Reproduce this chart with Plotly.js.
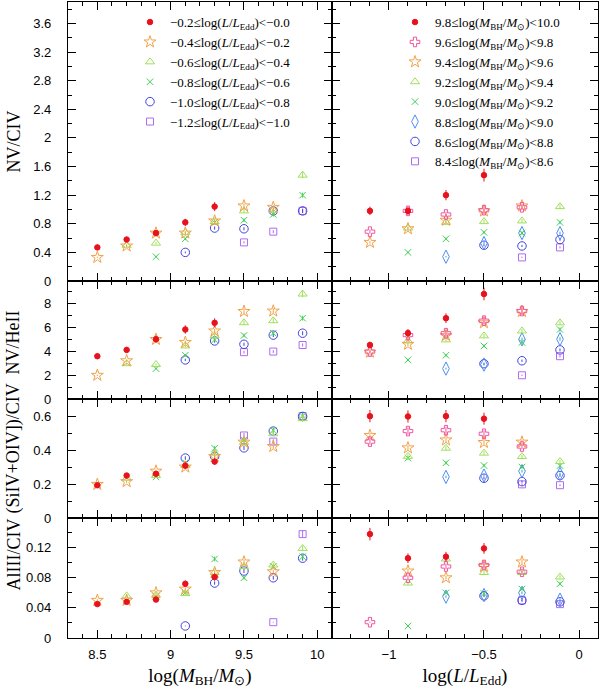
<!DOCTYPE html>
<html>
<head>
<meta charset="utf-8">
<script src="https://cdn.plot.ly/plotly-3.0.1.min.js"></script>
<style>
  html, body { margin: 0; padding: 0; background: #fff; }
  #chart { width: 600px; height: 691px; }
</style>
</head>
<body>
<div id="chart"></div>
<script>
// line ratios binned in black-hole mass (rows) and Eddington ratio (columns)
const massBins = [8.5, 8.7, 8.9, 9.1, 9.3, 9.5, 9.7, 9.9];
const eddBins = [-1.1, -0.9, -0.7, -0.5, -0.3, -0.1];

const nvCiv = [
  [null, null, null, null, 0.33, 0.47],
  [null, null, null, 0.50, 0.49, 0.58],
  [null, null, 0.34, 0.53, 0.67, 0.67],
  [null, 0.40, 0.59, 0.68, 0.67, 0.82],
  [null, 0.74, 0.82, 0.83, 0.84, 1.04],
  [0.54, 0.73, 0.85, 0.98, 1.05, null],
  [0.69, 0.98, 0.93, 0.99, 1.03, null],
  [0.98, 0.98, 1.20, 1.48, null, null]
];

const nvHeii = [
  [null, null, null, null, 1.99, 3.59],
  [null, null, null, 2.96, 3.21, 4.12],
  [null, null, 2.55, 2.89, 5.00, 5.02],
  [null, 3.28, 3.67, 4.45, 4.75, 5.83],
  [null, 4.87, 4.96, 5.30, 5.71, 6.39],
  [3.93, 4.59, 5.33, 6.40, 7.35, null],
  [3.98, 5.36, 5.52, 6.57, 7.38, null],
  [4.53, 5.52, 6.78, 8.81, null, null]
];

const siivCiv = [
  [null, null, null, null, 0.200, 0.195],
  [null, null, null, 0.236, 0.216, 0.252],
  [null, null, 0.244, 0.252, 0.278, 0.262],
  [null, 0.355, 0.327, 0.311, 0.302, 0.310],
  [null, 0.365, 0.413, 0.384, 0.364, 0.334],
  [0.488, 0.415, 0.462, 0.447, 0.449, null],
  [0.452, 0.514, 0.519, 0.498, 0.423, null],
  [0.602, 0.600, 0.602, 0.587, null, null]
];

const aliiiCiv = [
  [null, null, null, null, 0.050, 0.045],
  [null, null, null, 0.056, 0.050, 0.048],
  [null, null, 0.055, 0.057, 0.060, 0.051],
  [null, 0.016, 0.060, 0.059, 0.065, 0.072],
  [null, 0.073, 0.105, 0.087, 0.087, 0.081],
  [null, 0.089, 0.080, 0.095, 0.101, null],
  [0.021, 0.080, 0.095, 0.097, 0.088, null],
  [0.138, 0.106, 0.108, 0.119, null, null]
];

const eddNames = [
  "−1.2≤log(<i>L</i>/<i>L</i><sub>Edd</sub>)&lt;−1.0",
  "−1.0≤log(<i>L</i>/<i>L</i><sub>Edd</sub>)&lt;−0.8",
  "−0.8≤log(<i>L</i>/<i>L</i><sub>Edd</sub>)&lt;−0.6",
  "−0.6≤log(<i>L</i>/<i>L</i><sub>Edd</sub>)&lt;−0.4",
  "−0.4≤log(<i>L</i>/<i>L</i><sub>Edd</sub>)&lt;−0.2",
  "−0.2≤log(<i>L</i>/<i>L</i><sub>Edd</sub>)&lt;−0.0"
];

const massNames = [
  "8.4≤log(<i>M</i><sub>BH</sub>/<i>M</i><sub>⊙</sub>)&lt;8.6",
  "8.6≤log(<i>M</i><sub>BH</sub>/<i>M</i><sub>⊙</sub>)&lt;8.8",
  "8.8≤log(<i>M</i><sub>BH</sub>/<i>M</i><sub>⊙</sub>)&lt;9.0",
  "9.0≤log(<i>M</i><sub>BH</sub>/<i>M</i><sub>⊙</sub>)&lt;9.2",
  "9.2≤log(<i>M</i><sub>BH</sub>/<i>M</i><sub>⊙</sub>)&lt;9.4",
  "9.4≤log(<i>M</i><sub>BH</sub>/<i>M</i><sub>⊙</sub>)&lt;9.6",
  "9.6≤log(<i>M</i><sub>BH</sub>/<i>M</i><sub>⊙</sub>)&lt;9.8",
  "9.8≤log(<i>M</i><sub>BH</sub>/<i>M</i><sub>⊙</sub>)&lt;10.0"
];

const rowTitles = ["NV/CIV", "NV/HeII", "(SiIV+OIV])/CIV", "AlIII/CIV"];

(function () {
  const dom = document.getElementById("chart");

  const S = {
    red:   { symbol: "circle", color: "#e8121e", size: 5.5, err: 6 },
    pink:  { symbol: "cross-open", color: "#f0559e", size: 8, err: 4 },
    star:  { symbol: "star-open", color: "#f2a24a", size: 9, err: 3 },
    tri:   { symbol: "triangle-up-open", color: "#9ee05a", size: 8, err: 3 },
    cross: { symbol: "x-thin-open", color: "#3fcf55", size: 6.5, err: 3 },
    dia:   { symbol: "diamond-tall-open", color: "#4a90f0", size: 9.5, err: 3 },
    circ:  { symbol: "circle-open", color: "#4444e0", size: 8.5, err: 3 },
    sq:    { symbol: "square-open", color: "#ad6cf0", size: 7, err: 3 }
  };
  const eddStyle = [S.sq, S.circ, S.cross, S.tri, S.star, S.red];
  const massStyle = [S.sq, S.circ, S.dia, S.cross, S.tri, S.star, S.pink, S.red];

  const panels = [nvCiv, nvHeii, siivCiv, aliiiCiv];

  const axId = (n) => (n === 1 ? "" : String(n));

  function mk(st, x, y, name, xa, ya, leg, show) {
    return {
      type: "scatter",
      mode: "markers",
      x: x,
      y: y,
      name: name,
      xaxis: "x" + axId(xa),
      yaxis: "y" + axId(ya),
      legend: leg,
      showlegend: show,
      marker: {
        symbol: st.symbol,
        size: st.size,
        color: st.color,
        line: { color: st.color, width: 1 }
      },
      error_y: {
        type: "percent",
        value: st.err,
        thickness: 1,
        width: 0,
        color: st.color
      },
      hoverinfo: "x+y+name"
    };
  }

  const traces = [];
  panels.forEach((M, r) => {
    const left = 2 * r + 1;
    const right = 2 * r + 2;
    eddBins.forEach((e, j) => {
      traces.push(mk(eddStyle[j], massBins, M.map(row => row[j]), eddNames[j],
        left, left, "legend", r === 0));
    });
    massBins.forEach((m, i) => {
      traces.push(mk(massStyle[i], eddBins, M[i], massNames[i],
        right, right, "legend2", r === 0));
    });
  });

  const tickFont = { family: "Liberation Sans, Arial, sans-serif", size: 13, color: "#000" };
  const serif = "Liberation Serif, Times New Roman, serif";

  function axis(extra, minorDtick) {
    return Object.assign({
      showline: true,
      linecolor: "#000",
      linewidth: 1.2,
      mirror: "allticks",
      ticks: "inside",
      ticklen: 8,
      tickwidth: 1.1,
      tickcolor: "#000",
      showgrid: false,
      zeroline: false,
      tickfont: tickFont,
      minor: { ticks: "inside", ticklen: 4, tickwidth: 1, tickcolor: "#000", dtick: minorDtick, showgrid: false }
    }, extra);
  }

  const colL = [0, 0.498];
  const colR = [0.498, 1];
  const rowDom = [[0.5613, 1], [0.3758, 0.5613], [0.1882, 0.3758], [0, 0.1882]];
  const yRanges = [[0, 3.9], [0, 9.9], [0, 0.703], [0, 0.159]];
  const yDticks = [0.4, 2, 0.2, 0.04];

  const layout = {
    width: 600,
    height: 691,
    margin: { l: 68, r: 2, t: 2, b: 53 },
    paper_bgcolor: "#fff",
    plot_bgcolor: "#fff",
    font: { family: serif, color: "#000" },
    annotations: [],
    legend: {
      x: 0.117, y: 0.992, xanchor: "left", yanchor: "top",
      bgcolor: "rgba(0,0,0,0)",
      font: { family: serif, size: 13, color: "#000" },
      traceorder: "reversed",
      tracegroupgap: 0
    },
    legend2: {
      x: 0.617, y: 0.992, xanchor: "left", yanchor: "top",
      bgcolor: "rgba(0,0,0,0)",
      font: { family: serif, size: 13, color: "#000" },
      traceorder: "reversed",
      tracegroupgap: 0
    }
  };

  for (let r = 0; r < 4; r++) {
    const left = 2 * r + 1;
    const right = 2 * r + 2;
    const bottom = r === 3;
    layout["xaxis" + axId(left)] = axis({
      domain: colL, anchor: "y" + axId(left), range: [8.3, 10.1],
      tick0: 8.5, dtick: 0.5, showticklabels: bottom, ticklabelstandoff: 4,
      title: bottom ? {
        text: "log(<i>M</i><sub>BH</sub>/<i>M</i><sub>⊙</sub>)",
        font: { family: serif, size: 19, color: "#000" }, standoff: 7
      } : undefined
    }, 0.1);
    layout["xaxis" + axId(right)] = axis({
      domain: colR, anchor: "y" + axId(right), range: [-1.3, 0.1],
      tick0: 0, dtick: 0.5, showticklabels: bottom, ticklabelstandoff: 4,
      title: bottom ? {
        text: "log(<i>L</i>/<i>L</i><sub>Edd</sub>)",
        font: { family: serif, size: 19, color: "#000" }, standoff: 7
      } : undefined
    }, 0.1);
    layout["yaxis" + axId(left)] = axis({
      domain: rowDom[r], anchor: "x" + axId(left), range: yRanges[r],
      tick0: 0, dtick: yDticks[r], ticklabelstandoff: 13
    }, yDticks[r] / 2);
    layout["yaxis" + axId(right)] = axis({
      domain: rowDom[r], anchor: "x" + axId(right), range: yRanges[r],
      tick0: 0, dtick: yDticks[r], showticklabels: false
    }, yDticks[r] / 2);
  }

  const titleY = [0.78, 0.4638, 0.2972, 0.1305];
  rowTitles.forEach((t, r) => {
    layout.annotations.push({
      text: t,
      xref: "paper", yref: "paper",
      x: -0.1028, y: titleY[r],
      xanchor: "center", yanchor: "middle",
      textangle: -90,
      showarrow: false,
      font: { family: serif, size: 18, color: "#000" }
    });
  });

  Plotly.newPlot(dom, traces, layout, { displayModeBar: false, responsive: false });
})();
</script>
</body>
</html>
